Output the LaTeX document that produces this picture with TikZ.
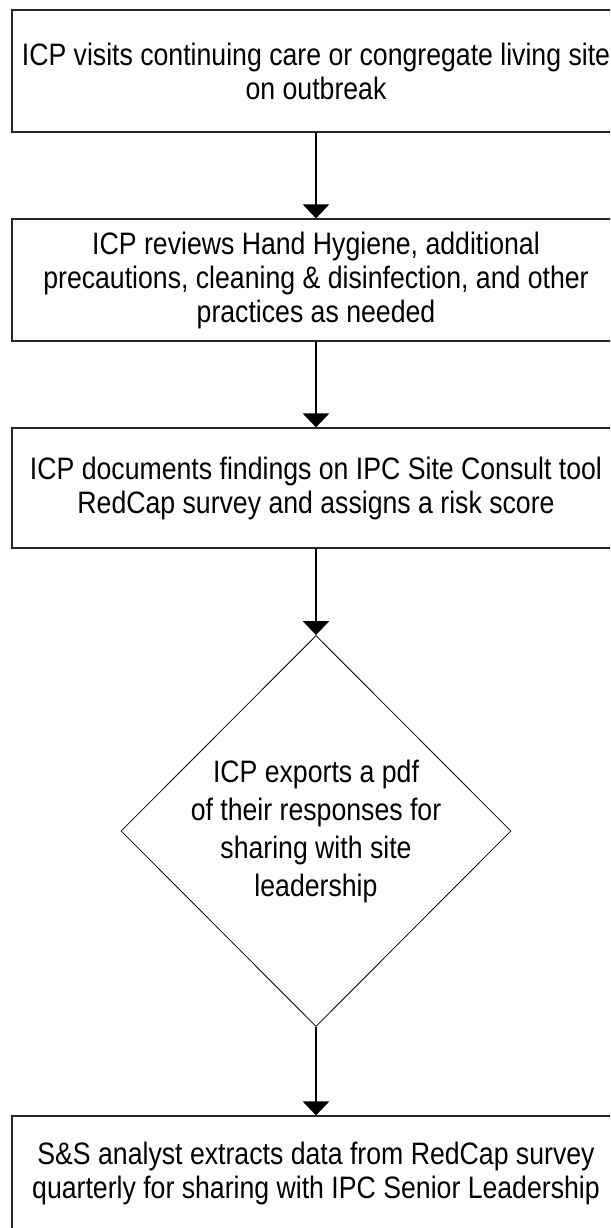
\documentclass[tikz,border=0pt]{standalone}
\usepackage{fontspec}
\usetikzlibrary{arrows.meta,shapes.geometric}
\newfontfamily\flowfont{Liberation Sans}[FakeStretch=0.86]
\begin{document}
\begin{tikzpicture}[x=1pt,y=-1pt,
  box/.style={draw=black!85, line width=1.2pt, fill=white, minimum width=608pt,
    inner sep=0pt, align=center, font=\flowfont\fontsize{31}{34}\selectfont},
  dia/.style={diamond, draw=black, line width=0.8pt, fill=white, inner sep=0pt,
    minimum width=390pt, minimum height=391pt},
  diatext/.style={align=center, inner sep=0pt, font=\flowfont\fontsize{31}{38}\selectfont},
  arr/.style={draw=black, line width=2.5pt, -{Triangle[width=26pt,length=14pt]}}]
\useasboundingbox (0,0) rectangle (610,1228);
\clip (0,0) rectangle (610,1228);
\fill[white] (0,0) rectangle (610,1228);

\node[box, minimum height=122pt] (b1) at (316,71)
  {ICP visits continuing care or congregate living site\\on outbreak};
\node[box, minimum height=122pt] (b2) at (316,280)
  {ICP reviews Hand Hygiene, additional\\precautions, cleaning \& disinfection, and other\\practices as needed};
\node[box, minimum height=120pt] (b3) at (316,488)
  {ICP documents findings on IPC Site Consult tool\\RedCap survey and assigns a risk score};
\node[dia] (d) at (316,831) {};
\node[diatext] (dt) at (d.center)
  {ICP exports a pdf\\of their responses for\\sharing with site\\leadership};
\node[box, minimum height=114pt] (b5) at (316,1173)
  {S\&S analyst extracts data from RedCap survey\\quarterly for sharing with IPC Senior Leadership};

\draw[arr] (b1.south) -- (b2.north);
\draw[arr] (b2.south) -- (b3.north);
\draw[arr] (b3.south) -- (d.north);
\draw[arr] (d.south) -- (b5.north);
\end{tikzpicture}
\end{document}
